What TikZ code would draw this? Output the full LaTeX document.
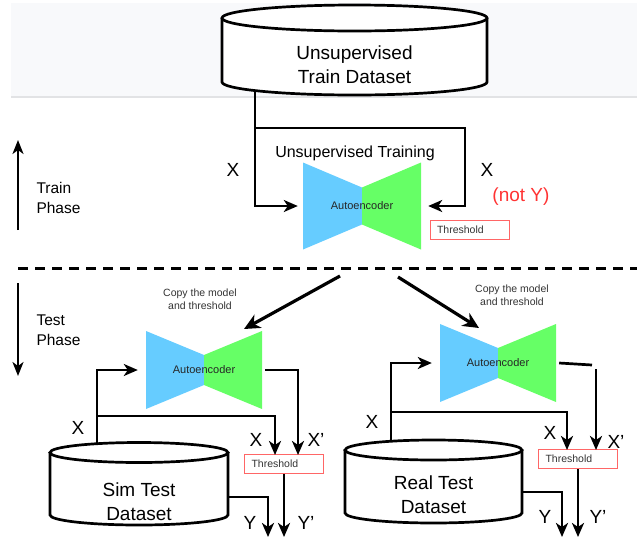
\documentclass[tikz,border=0pt]{standalone}
\usepackage{fontspec}
\setmainfont{Liberation Sans}
\usetikzlibrary{arrows.meta}
\definecolor{aeblue}{HTML}{66CCFF}
\definecolor{aegreen}{HTML}{66FF66}
\definecolor{thrred}{HTML}{FF6666}
\definecolor{notyred}{HTML}{FF3333}
\definecolor{bandgray}{HTML}{F8F9FB}
\definecolor{bandline}{HTML}{E2E3E5}
\definecolor{smalltext}{HTML}{333333}

% autoencoder bow-tie: cx, cy, half width, half height, half waist
\newcommand\aeshape[5]{%
  \fill[aeblue] (#1-#3,#2-#4) -- (#1,#2-#5) -- (#1,#2+#5) -- (#1-#3,#2+#4) -- cycle;
  \fill[aegreen] (#1+#3,#2-#4) -- (#1,#2-#5) -- (#1,#2+#5) -- (#1+#3,#2+#4) -- cycle;}

% database drum: cx, top cap cy, bottom cap cy, x radius, y radius
\newcommand\drum[5]{%
  \draw[wire,fill=white] (#1-#4,#2) -- (#1-#4,#3)
    arc[start angle=180,end angle=0,x radius=#4,y radius=#5] -- (#1+#4,#2);
  \draw[wire,fill=white] (#1,#2) ellipse[x radius=#4,y radius=#5];}

\begin{document}
\begin{tikzpicture}[x=1pt,y=-1pt,
  wire/.style={line width=2.7pt},
  flow/.style={line width=2.7pt,-{Stealth[length=14pt,width=12pt,inset=4pt]}},
  copyflow/.style={line width=3.2pt,-{Stealth[length=16pt,width=15pt,inset=5pt]}},
  phase/.style={line width=2.2pt,-{Stealth[length=14pt,width=11pt,inset=4pt]}},
  dbtext/.style={font=\fontsize{19}{24}\selectfont,align=center},
  sig/.style={font=\fontsize{19}{22}\selectfont},
  phasetext/.style={font=\fontsize{15.5}{20}\selectfont,align=left,anchor=west},
  aenode/.style={font=\fontsize{11}{13}\selectfont,text=black!85,inner sep=0pt},
  thr/.style={draw=thrred,line width=1pt,fill=white,minimum height=19pt,
    text width=65pt,inner xsep=7pt,inner ysep=0pt,align=left,
    font=\fontsize{10.5}{12}\selectfont,text=black!80},
  copytext/.style={font=\fontsize{10.5}{13}\selectfont,align=center,text=smalltext}]

\useasboundingbox (0,0) rectangle (637,539);

% training band
\fill[bandgray] (11,3) rectangle (637,97);
\draw[bandline,line width=1.5pt] (11,97) -- (637,97);

% ---------------- training phase ----------------
\drum{354.5}{18}{82}{132.5}{13}
\node[dbtext] (trainds) at (354.5,65) {Unsupervised\\Train Dataset};
\coordinate (tsout) at (255,90.5);
\coordinate (tsloop) at (255,128);
\coordinate (tsback) at (465,128);

\aeshape{362}{206}{59}{43.5}{18.5}
\node[aenode,minimum width=118pt,minimum height=87pt] (ae0) at (362,206) {Autoencoder};
\node[font=\fontsize{16}{18}\selectfont] (trainlbl) at (355,153) {Unsupervised Training};

\draw[flow,shorten >=5pt] (tsout) |- (ae0.west);
\draw[flow,shorten >=7pt] (tsloop) -- (tsback) |- (ae0.east);

\node[sig] (x0a) at (233,170) {X};
\node[sig] (x0b) at (487,170) {X};
\node[sig,text=notyred] (noty) at (521,197) {(not Y)};
\node[thr] (thr0) at (469.5,229.5) {Threshold};

% phase markers
\coordinate (trs) at (18,230);
\coordinate (tre) at (18,140);
\draw[phase] (trs) -- (tre);
\node[phasetext] (trainph) at (33,198) {Train\\Phase};
\coordinate (tes) at (18,283);
\coordinate (tee) at (18,376);
\draw[phase] (tes) -- (tee);
\node[phasetext] (testph) at (33,330) {Test\\Phase};

% split between phases
\coordinate (dl) at (18,268);
\coordinate (dr) at (637,268);
\draw[line width=3pt,dash pattern=on 10pt off 7pt] (dl) -- (dr);

% ---------------- simulated test ----------------
\aeshape{204}{370}{58}{39}{15}
\node[aenode,minimum width=116pt,minimum height=78pt] (ae1) at (204,370) {Autoencoder};
\node[copytext] (copy1) at (200,299.5) {Copy the model\\and threshold};
\coordinate (c1s) at (340,276);
\coordinate (c1e) at (244,329);
\draw[copyflow] (c1s) -- (c1e);

\drum{139}{452.5}{515}{89}{10}
\node[dbtext] (simds) at (139,501.5) {Sim Test\\Dataset};
\node[thr] (thr1) at (284,464) {Threshold};

\coordinate (s1in) at (97,443);
\coordinate (s1j) at (97,416);
\coordinate (t1a) at (275,455);
\coordinate (t1b) at (298,455);
\coordinate (s1y) at (228,497);
\coordinate (e1y) at (268,537);
\coordinate (e1p) at (284,537);

\draw[flow,shorten >=8pt] (s1in) |- (ae1.west);
\draw[flow] (s1j) -| (t1a);
\draw[flow] ([xshift=3pt]ae1.east) -| (t1b);
\draw[flow] (thr1.south) -- (e1p);
\draw[flow] (s1y) -| (e1y);

\node[sig] (x1a) at (78,428) {X};
\node[sig] (x1b) at (256,440) {X};
\node[sig] (x1c) at (316,440) {X’};
\node[sig] (y1a) at (250,523) {Y};
\node[sig] (y1b) at (306,523) {Y’};

% ---------------- real test ----------------
\aeshape{498}{363}{58}{39}{15}
\node[aenode,minimum width=116pt,minimum height=78pt] (ae2) at (498,363) {Autoencoder};
\node[copytext] (copy2) at (512,295.5) {Copy the model\\and threshold};
\coordinate (c2s) at (398,277);
\coordinate (c2e) at (479,328);
\draw[copyflow] (c2s) -- (c2e);

\drum{433.5}{450}{513}{88.5}{10}
\node[dbtext] (realds) at (433.5,495) {Real Test\\Dataset};
\node[thr] (thr2) at (578,459) {Threshold};

\coordinate (s2in) at (391,441);
\coordinate (s2j) at (391,412);
\coordinate (t2a) at (567,450);
\coordinate (o2a) at (592,365);
\coordinate (o2b) at (596,369);
\coordinate (t2b) at (596,450);
\coordinate (s2y) at (522,492);
\coordinate (e2y) at (562,537);
\coordinate (e2p) at (578,537);

\draw[flow,shorten >=8pt] (s2in) |- (ae2.west);
\draw[flow] (s2j) -| (t2a);
\draw[wire] ([xshift=3pt]ae2.east) -- (o2a);
\draw[flow] (o2b) -- (t2b);
\draw[flow] (thr2.south) -- (e2p);
\draw[flow] (s2y) -| (e2y);

\node[sig] (x2a) at (372,422) {X};
\node[sig] (x2b) at (550,433) {X};
\node[sig] (x2c) at (616,442) {X’};
\node[sig] (y2a) at (545,517) {Y};
\node[sig] (y2b) at (598,517) {Y’};
\end{tikzpicture}
\end{document}
